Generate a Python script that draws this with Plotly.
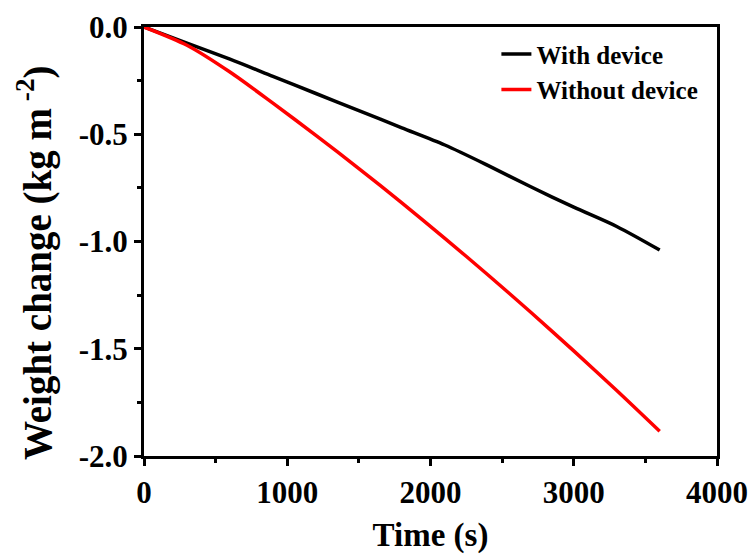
import plotly.graph_objects as go

time_s = [0, 300, 600, 900, 1200, 1500, 1800, 2100, 2400, 2700, 3000, 3300, 3600]
with_device = [0, -0.075, -0.15, -0.23, -0.31, -0.39, -0.47, -0.55, -0.645, -0.745, -0.84, -0.93, -1.04]
without_device = [0, -0.085, -0.21, -0.355, -0.505, -0.66, -0.82, -0.985, -1.155, -1.33, -1.51, -1.695, -1.885]

x_ticks = [0, 1000, 2000, 3000, 4000]
x_tick_labels = ["0", "1000", "2000", "3000", "4000"]
y_ticks = [0.0, -0.5, -1.0, -1.5, -2.0]
y_tick_labels = ["0.0", "-0.5", "-1.0", "-1.5", "-2.0"]

FONT = "Liberation Serif"

fig = go.Figure()
fig.add_trace(go.Scatter(x=time_s, y=with_device, mode="lines", name="<b>With device</b>",
                         line=dict(color="black", width=3.5, shape="spline", smoothing=0.8)))
fig.add_trace(go.Scatter(x=time_s, y=without_device, mode="lines", name="<b>Without device</b>",
                         line=dict(color="#ff0000", width=3.5, shape="spline", smoothing=0.8)))

axis_common = dict(showline=True, linecolor="black", linewidth=3, mirror=True,
                   ticks="outside", ticklen=7, tickwidth=3, tickcolor="black",
                   showgrid=False, zeroline=False, automargin=False,
                   tickfont=dict(family=FONT, size=31, color="black"))

fig.update_layout(
    width=756, height=558,
    margin=dict(l=136, r=47, t=19, b=110),
    paper_bgcolor="white", plot_bgcolor="white",
    font=dict(family=FONT, color="black"),
    xaxis=dict(range=[0, 4000], tickvals=x_ticks, ticktext=["<b>%s</b>" % t for t in x_tick_labels],
               minor=dict(ticks="outside", ticklen=4, tickwidth=3, tickcolor="black", dtick=500),
               title=dict(text="<b>Time (s)</b>", font=dict(family=FONT, size=33), standoff=14),
               **axis_common),
    yaxis=dict(range=[-2.0, 0.0], tickvals=y_ticks, ticktext=["<b>%s</b>" % t for t in y_tick_labels],
               minor=dict(ticks="outside", ticklen=4, tickwidth=3, tickcolor="black", dtick=0.25),
               **axis_common),
    annotations=[dict(text="<b>Weight change (kg m<sup> -2</sup>)</b>", textangle=-90,
                      xref="paper", yref="paper", x=-0.19, y=0.45,
                      xanchor="center", yanchor="middle", showarrow=False,
                      font=dict(family=FONT, size=39, color="black"))],
    legend=dict(x=0.615, y=0.99, xanchor="left", yanchor="top",
                font=dict(family=FONT, size=25, color="black"),
                bgcolor="rgba(0,0,0,0)", borderwidth=0, tracegroupgap=0, itemwidth=30),
    showlegend=True,
)

fig.write_html("out.html")
